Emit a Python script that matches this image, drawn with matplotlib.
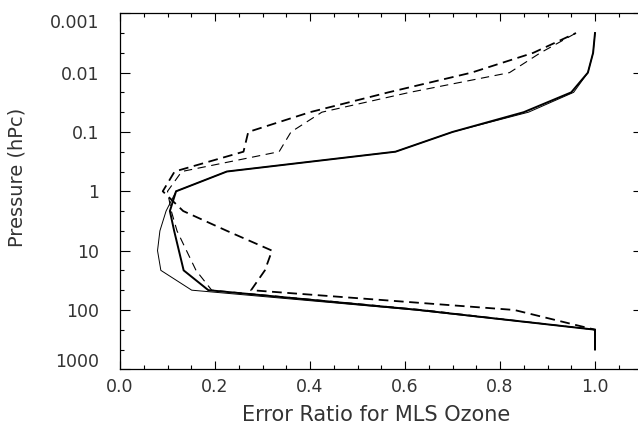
import numpy as np
import matplotlib
matplotlib.use("Agg")
import matplotlib.pyplot as plt
from matplotlib.ticker import FixedLocator, FixedFormatter, NullFormatter
from matplotlib.transforms import ScaledTranslation

plt.rcParams['font.family'] = ['DejaVu Sans']
plt.rcParams['lines.scale_dashes'] = False

# Pressure levels (hPa)
levels = [464, 215, 100, 46.4, 21.5, 10, 4.64, 2.15, 1, 0.464, 0.215, 0.1,
          0.0464, 0.0215, 0.01, 0.00464, 0.00215]

# Error ratio curves
solid_thick = [1.0, 1.0, 0.63, 0.186, 0.134, 0.124, 0.114, 0.105, 0.118, 0.225,
               0.58, 0.70, 0.85, 0.95, 0.985, 0.996, 1.0]
solid_thin = [1.0, 1.0, 0.62, 0.151, 0.086, 0.079, 0.084, 0.097, 0.118, 0.225,
              0.58, 0.70, 0.86, 0.955, 0.985, 0.996, 1.0]
dash_thick = [1.0, 1.0, 0.83, 0.276, 0.305, 0.32, 0.225, 0.133, 0.09, 0.115,
              0.26, 0.27, 0.40, 0.565, 0.74, 0.87, 0.96]
dash_thin = [1.0, 1.0, 0.64, 0.193, 0.16, 0.14, 0.12, 0.108, 0.10, 0.13,
             0.335, 0.36, 0.425, 0.61, 0.82, 0.885, 0.96]

ytick_vals = [0.001, 0.01, 0.1, 1, 10, 100, 1000]
ytick_labels = ["0.001", "0.01", "0.1", "1", "10", "100", "1000"]
xtick_vals = [0.0, 0.2, 0.4, 0.6, 0.8, 1.0]
xtick_labels = ["0.0", "0.2", "0.4", "0.6", "0.8", "1.0"]

W, H = 638, 434
fig = plt.figure(figsize=(W / 100, H / 100), dpi=100)
ax = fig.add_axes([120 / W, (H - 369.3) / H, 522.5 / W, 356 / H])

ax.plot(solid_thick, levels, color='black', lw=1.4, solid_joinstyle='miter')
ax.plot(solid_thin, levels, color='black', lw=0.7)
ax.plot(dash_thick, levels, color='black', lw=1.3, dashes=(7, 4))
ax.plot(dash_thin, levels, color='black', lw=0.8, dashes=(6, 4))

ax.set_yscale('log')
ax.set_ylim(1000, 0.001)
ax.set_xlim(0, 1.1)

ax.yaxis.set_major_locator(FixedLocator(ytick_vals))
ax.yaxis.set_major_formatter(FixedFormatter(ytick_labels))
ax.yaxis.set_minor_locator(FixedLocator([10 ** (k / 3) for k in range(-9, 10)]))
ax.yaxis.set_minor_formatter(NullFormatter())

ax.xaxis.set_major_locator(FixedLocator(xtick_vals))
ax.xaxis.set_major_formatter(FixedFormatter(xtick_labels))
ax.xaxis.set_minor_locator(FixedLocator(np.arange(0, 1.101, 0.05)))

ax.tick_params(axis='both', which='both', direction='in', top=True, right=True,
               color='black', width=0.8)
ax.tick_params(axis='y', which='major', length=7, pad=15)
ax.tick_params(axis='y', which='minor', length=3.2)
ax.tick_params(axis='x', which='major', length=6, pad=6)
ax.tick_params(axis='x', which='minor', length=3)
ax.tick_params(axis='both', which='major', labelsize=12.5, labelcolor='#333333')

for s in ax.spines.values():
    s.set_linewidth(0.9)

# shift end labels like the original
fig.canvas.draw()
ylabels = ax.get_yticklabels()
ylabels[0].set_transform(ylabels[0].get_transform() +
                         ScaledTranslation(0, -8 / 100, fig.dpi_scale_trans))
ylabels[-1].set_transform(ylabels[-1].get_transform() +
                          ScaledTranslation(0, 9 / 100, fig.dpi_scale_trans))

fig.text(17.5 / W, 1 - 177 / H, "Pressure (hPc)", rotation=90, ha='center',
         va='center', fontsize=14, color='#333333')
fig.text(376 / W, 1 - 415 / H, "Error Ratio for MLS Ozone", ha='center',
         va='center', fontsize=15, color='#333333')

fig.savefig("out.png", dpi=100)
